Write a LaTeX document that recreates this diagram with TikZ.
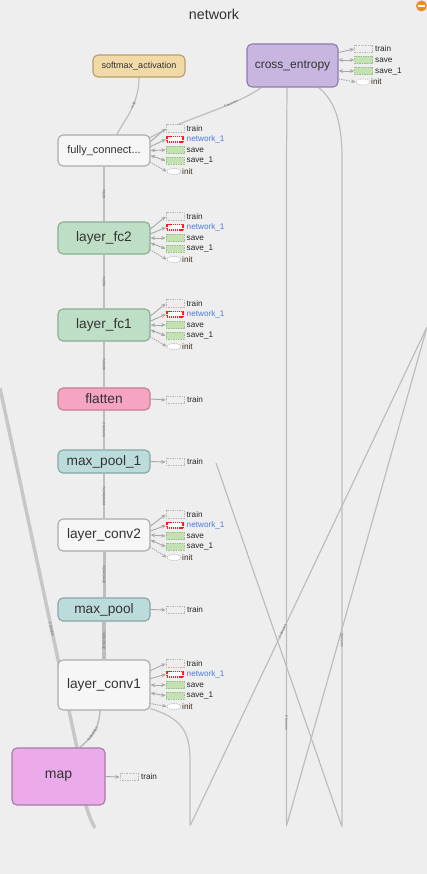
\documentclass[tikz,border=0pt]{standalone}
\usepackage{fontspec}
\setmainfont{Liberation Sans}
\usetikzlibrary{arrows.meta,calc,shapes.geometric}
\pgfdeclarelayer{bgl}
\pgfdeclarelayer{edges}
\pgfsetlayers{bgl,edges,main}
\definecolor{bg}{HTML}{EEEEEE}
\definecolor{txt}{HTML}{333333}
\definecolor{edgec}{HTML}{BEBEBE}
\definecolor{graybox}{HTML}{F6F6F6}
\definecolor{graydraw}{HTML}{ABABAB}
\definecolor{gfill}{HTML}{BEDFC6}
\definecolor{gdraw}{HTML}{8BAD93}
\definecolor{pfill}{HTML}{F5A4C1}
\definecolor{pdraw}{HTML}{C47E97}
\definecolor{tfill}{HTML}{BCDCDC}
\definecolor{tdraw}{HTML}{86A7A7}
\definecolor{sfill}{HTML}{F1D9A8}
\definecolor{sdraw}{HTML}{B89F6B}
\definecolor{cfill}{HTML}{C8B6E1}
\definecolor{cdraw}{HTML}{8E7BAE}
\definecolor{mfill}{HTML}{EBAAEA}
\definecolor{mdraw}{HTML}{A67BA6}
\definecolor{sidegray}{HTML}{B8B8B8}
\definecolor{arrgray}{HTML}{A8A8A8}
\definecolor{savefill}{HTML}{C4E1B4}
\definecolor{savedraw}{HTML}{9EC08E}
\definecolor{netblue}{HTML}{4A7BE0}
\definecolor{netred}{HTML}{FF1A1A}
\definecolor{initc}{HTML}{3A2A20}
\definecolor{orangec}{HTML}{F08C22}
\tikzset{
  opnode/.style={rounded corners=5pt, line width=1.1pt, minimum width=92pt, inner sep=0pt, text=txt, font=\fontsize{13.7}{15}\selectfont},
  edge/.style={draw=edgec, line width=1.2pt},
  elbl/.style={font=\fontsize{3.5}{4}\selectfont, text=black!60, inner sep=0.3pt, sloped},
  trainbox/.style={draw=sidegray, dash pattern=on 1.4pt off 1pt, line width=0.6pt, fill=bg, minimum width=18pt, minimum height=7.5pt, inner sep=0pt},
  netbox/.style={draw=netred, dash pattern=on 1.2pt off 0.9pt, line width=1.7pt, fill=white, minimum width=16.5pt, minimum height=5.5pt, inner sep=0pt},
  savebox/.style={draw=savedraw, dash pattern=on 1.4pt off 1pt, line width=0.6pt, fill=savefill, minimum width=18pt, minimum height=7.5pt, inner sep=0pt},
  initbox/.style={ellipse, draw=sidegray, dash pattern=on 1.4pt off 1pt, line width=0.6pt, fill=white, minimum width=14pt, minimum height=6pt, inner sep=0pt},
  sidelbl/.style={anchor=west, inner sep=0pt, font=\fontsize{8.2}{9}\selectfont, text=black!85},
  sidearr/.style={draw=arrgray, line width=0.9pt, -{Stealth[length=4.5pt,width=3.8pt]}},
  sidearrb/.style={draw=arrgray, line width=0.9pt, {Stealth[length=4.5pt,width=3.8pt]}-{Stealth[length=4.5pt,width=3.8pt]}},
  sidearrd/.style={draw=arrgray, line width=0.9pt, dash pattern=on 1.5pt off 1pt, -{Stealth[length=4.5pt,width=3.8pt]}},
}
\newcommand\fivecl[3]{%
  \node[trainbox] (#1tr) at (175,{#2-21.5}) {};
  \node[netbox] (#1nw) at (175,{#2-10.7}) {};
  \node[savebox] (#1sv) at (175,{#2}) {};
  \node[savebox] (#1svb) at (175,{#2+10.7}) {};
  \node[initbox] (#1in) at (174,{#2+21.5}) {};
  \node[sidelbl] (#1trl) at (186.5,{#2-21.5}) {train};
  \node[sidelbl, text=netblue] (#1nwl) at (186.5,{#2-10.7}) {network\_1};
  \node[sidelbl] (#1svl) at (186.5,{#2}) {save};
  \node[sidelbl] (#1svbl) at (186.5,{#2+10.7}) {save\_1};
  \node[sidelbl, text=initc] (#1inl) at (182,{#2+21.5}) {init};
  \draw[sidearr] ($(#1.east)+(0,{-9*#3})$) -- (#1tr.west);
  \draw[sidearr] ($(#1.east)+(0,{-4*#3})$) -- (#1nw.west);
  \draw[sidearrb] (#1.east) -- (#1sv.west);
  \draw[sidearrb] ($(#1.east)+(0,{5*#3})$) -- (#1svb.west);
  \draw[sidearrd] ($(#1.east)+(-1,{11.5*#3})$) -- (#1in.west);
}
\newcommand\onecl[3]{%
  \node[trainbox] (#1tr) at (#3,#2) {};
  \node[sidelbl] (#1trl) at ($(#1tr.east)+(2.5,0)$) {train};
  \draw[sidearr] (#1.east) -- (#1tr.west);
}
\begin{document}
\begin{tikzpicture}[x=1pt,y=-1pt]
\begin{pgfonlayer}{bgl}
\fill[bg] (0,0) rectangle (427,874);
\end{pgfonlayer}
\useasboundingbox (0,0) rectangle (427,874);

\node[font=\fontsize{14.3}{16}\selectfont, text=txt] (title) at (214,14) {network};
\fill[orangec] (421.5,6) circle (5.5);
\fill[white] (418,5.1) rectangle (425,6.9);

% nodes
\node[opnode, fill=sfill, draw=sdraw, minimum height=22pt, font=\fontsize{9}{10}\selectfont] (soft) at (139,66) {softmax\_activation};
\node[opnode, fill=cfill, draw=cdraw, minimum width=91pt, minimum height=43pt, font=\fontsize{12}{13}\selectfont] (cross) at (292.5,65.5) {cross\_entropy};
\node[opnode, fill=graybox, draw=graydraw, minimum height=31pt, font=\fontsize{11}{12}\selectfont] (fc) at (104,150.5) {fully\_connect...};
\node[opnode, fill=gfill, draw=gdraw, minimum height=32pt] (fc2) at (104,238) {layer\_fc2};
\node[opnode, fill=gfill, draw=gdraw, minimum height=32pt] (fc1) at (104,325) {layer\_fc1};
\node[opnode, fill=pfill, draw=pdraw, minimum height=22pt] (flat) at (104,399) {flatten};
\node[opnode, fill=tfill, draw=tdraw, minimum height=23pt] (mp1) at (104,461.5) {max\_pool\_1};
\node[opnode, fill=graybox, draw=graydraw, minimum height=32pt] (cv2) at (104,535) {layer\_conv2};
\node[opnode, fill=tfill, draw=tdraw, minimum height=23pt] (mp) at (104,609.5) {max\_pool};
\node[opnode, fill=graybox, draw=graydraw, minimum height=50pt] (cv1) at (104,685) {layer\_conv1};
\node[opnode, fill=mfill, draw=mdraw, minimum width=93pt, minimum height=57pt, font=\fontsize{14}{15}\selectfont] (map) at (58.5,776.5) {map};

% side clusters
\fivecl{fc}{150}{1}
\fivecl{fc2}{238}{1}
\fivecl{fc1}{325}{1}
\fivecl{cv2}{536}{1}
\fivecl{cv1}{685}{1.6}
\onecl{flat}{400}{175}
\onecl{mp1}{462}{175}
\onecl{mp}{610}{175}
\onecl{map}{777}{129}

% cross_entropy cluster
\node[trainbox] (crtr) at (363.5,49) {};
\node[savebox] (crsv) at (363.5,60) {};
\node[savebox] (crsvb) at (363.5,71) {};
\node[initbox] (crin) at (363,82) {};
\node[sidelbl] (crtrl) at (375,49) {train};
\node[sidelbl] (crsvl) at (375,60) {save};
\node[sidelbl] (crsvbl) at (375,71) {save\_1};
\node[sidelbl, text=initc] (crinl) at (371,82) {init};
\draw[sidearr] ($(cross.east)+(0,-13)$) -- (crtr.west);
\draw[sidearrb] ($(cross.east)+(0,-5.5)$) -- (crsv.west);
\draw[sidearrb] ($(cross.east)+(0,5.5)$) -- (crsvb.west);
\draw[sidearrd] ($(cross.east)+(0,13.5)$) -- (crin.west);

% free ends
\coordinate (rc) at (427,327);
\coordinate (lt) at (0,388);
\coordinate (lb) at (95,828);
\coordinate (mpend) at (216,463);

\begin{pgfonlayer}{edges}
\draw[edge] (fc) -- node[elbl]{?x128} (fc2);
\draw[edge] (fc2) -- node[elbl]{?x256} (fc1);
\draw[edge, line width=1.8pt] (fc1) -- node[elbl]{?x3136} (flat);
\draw[edge, line width=1.8pt] (flat) -- node[elbl]{2 tensors} (mp1);
\draw[edge, line width=2.6pt] (mp1) -- node[elbl]{?x14x14x64} (cv2);
\draw[edge, line width=3pt] (cv2) -- node[elbl]{?x14x14x32} (mp);
\draw[edge, line width=4pt] (mp) -- node[elbl]{?x28x28x32} (cv1);
\draw[edge] (soft.south) .. controls (139,105) and (124,120) .. node[elbl, pos=0.4]{?x10} ($(fc.north)+(13,0)$);
\draw[edge] ($(cross.south west)+(15,0)$) .. controls (232,108) and (185,118) .. node[elbl, pos=0.3]{5 tensors} ($(fc.north east)+(-2,4)$);
\draw[edge, line width=1.6pt] ($(cv1.south)+(-4,0)$) .. controls (99,732) and (88,740) .. node[elbl, pos=0.5]{?x28x28x1} ($(map.north)+(21.5,0)$);
% cross_entropy long edges
\draw[edge, rounded corners=2pt] ($(cross.south)+(-5.5,0)$) -- (286.5,160) -- node[elbl, pos=0.845]{2 tensors} (286.5,826) -- (rc);
\draw[edge, rounded corners=2pt] ($(cross.south east)+(-20,0)$) .. controls (334,100) and (342,120) .. (342,160) -- node[elbl, pos=0.72]{3 tensors} (342,827) -- (mpend);
\draw[edge, rounded corners=2pt] ($(cv1.south east)+(0,-2)$) .. controls (180,718) and (190,730) .. (190,762) -- (190,826) -- node[elbl, pos=0.39]{2 tensors} (rc);
% left thick edge
\draw[edge, line width=3.5pt, draw=black!22] (lt) -- node[elbl, pos=0.67]{2 tensors} (77,748) .. controls (81,790) and (86,812) .. (lb);
\end{pgfonlayer}
\end{tikzpicture}
\end{document}
